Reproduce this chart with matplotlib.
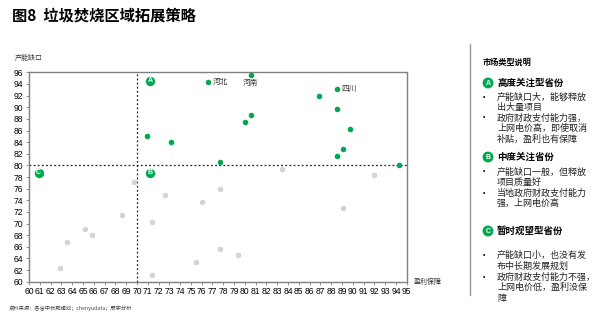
import matplotlib
matplotlib.use("Agg")
import matplotlib.pyplot as plt
from matplotlib.patches import Ellipse

plt.rcParams['font.family'] = ['Liberation Sans', 'Noto Sans CJK SC', 'DejaVu Sans']

# Provinces of high / medium interest (green)
green_x = [76.6, 70.9, 73.2, 77.7, 80.6, 80.0, 80.6, 86.85, 88.5, 88.5, 89.7, 89.1, 88.5, 94.3]
green_y = [94.3, 85.1, 84.0, 80.6, 95.5, 87.5, 88.6, 92.0, 93.2, 89.75, 86.3, 82.9, 81.7, 80.0]

# Provinces in wait-and-see status (grey)
gray_x = [69.7, 72.6, 77.7, 76.0, 68.6, 71.4, 65.2, 65.8, 63.5, 77.7, 62.9, 75.5, 71.4,
          79.4, 89.1, 92.0, 83.45]
gray_y = [77.15, 74.9, 76.0, 73.7, 71.4, 70.3, 69.1, 68.0, 66.8, 65.7, 62.3, 63.4, 61.1,
          64.55, 72.6, 78.3, 79.4]

# Named points
named = [("河北", 76.6, 94.3, "right"), ("河南", 80.6, 95.5, "below"), ("四川", 88.5, 93.2, "right")]

x_ticks = list(range(60, 96))
y_ticks = list(range(60, 97, 2))
x_split = 70
y_split = 80

GREEN = "#00a84f"
GRAY = "#d4d4d4"
W, H = 600.0, 316.0

fig = plt.figure(figsize=(6.0, 3.16), dpi=100)
ax = fig.add_axes([0.0483, 0.1085, 0.6297, 0.6625])

ax.scatter(gray_x, gray_y, s=16, color=GRAY, zorder=3, linewidths=0)
ax.scatter(green_x, green_y, s=16, color=GREEN, zorder=4, linewidths=0)

for name, x, y, pos in named:
    if pos == "right":
        ax.annotate(name, (x, y), xytext=(3.5, 0), textcoords="offset points",
                    ha="left", va="center", fontsize=5.5, color="#333333",
                    family=['Noto Sans CJK SC'])
    else:
        ax.annotate(name, (x, y), xytext=(-0.5, -5.5), textcoords="offset points",
                    ha="center", va="center", fontsize=5.5, color="#333333",
                    family=['Noto Sans CJK SC'])

ax.axvline(x_split, color="#222222", linestyle=(0, (1.5, 1.8)), linewidth=0.9, zorder=2)
ax.axhline(y_split, color="#222222", linestyle=(0, (1.5, 1.8)), linewidth=0.9, zorder=2)

# quadrant badges
for letter, x, y in [("A", 71.2, 94.6), ("B", 71.2, 78.75), ("C", 60.9, 78.75)]:
    ax.scatter([x], [y], s=46, color=GREEN, zorder=5, linewidths=0)
    ax.text(x, y - 0.05, letter, ha="center", va="center", color="white",
            fontsize=5, fontweight="bold", zorder=6)

ax.set_xlim(60, 95)
ax.set_ylim(60, 96)
ax.set_xticks(x_ticks)
ax.set_yticks(y_ticks)
ax.set_xticklabels([str(v) for v in x_ticks], fontsize=6.2)
ax.set_yticklabels([str(v) for v in y_ticks], fontsize=6.2)
ax.tick_params(length=2, width=0.6, color="#808080", pad=2)
for sp in ax.spines.values():
    sp.set_color("#808080")
    sp.set_linewidth(1.0)

fig.text(0.02, 0.952, "图8  垃圾焚烧区域拓展策略", fontsize=11, fontweight="bold",
         ha="left", va="center", family=['Noto Sans CJK SC'])
fig.text(0.025, 0.818, "产能缺口", fontsize=5, ha="left", va="center",
         color="#333333", family=['Noto Sans CJK SC'])
fig.text(0.69, 0.108, "盈利保障", fontsize=5, ha="left", va="center",
         color="#333333", family=['Noto Sans CJK SC'])
fig.text(0.015, 0.024, "资料来源：各省中长期规划；chenyudata；辰宇分析", fontsize=3.8,
         ha="left", va="center", color="#444444",
         family=['Noto Sans CJK SC', 'DejaVu Sans'])

# legend panel on the right
fig.add_artist(plt.Line2D([0.783, 0.783], [0.065, 0.86], color="#999999", linewidth=1.0,
                          transform=fig.transFigure))


def fy(py):
    return 1 - py / H


def fx(px):
    return px / W


cjk = ['Noto Sans CJK SC', 'DejaVu Sans']
fig.text(fx(483), fy(62), "市场类型说明", fontsize=5.9, fontweight="bold",
         ha="left", va="center", family=cjk)

sections = [
    ("A", 83, "高度关注型省份"),
    ("B", 157, "中度关注省份"),
    ("C", 231, "暂时观望型省份"),
]
for letter, py, head in sections:
    fig.add_artist(Ellipse((fx(488), fy(py)), 9.5 / W, 9.5 / H, color=GREEN,
                           transform=fig.transFigure))
    fig.text(fx(488), fy(py + 0.2), letter, ha="center", va="center", color="white",
             fontsize=5, fontweight="bold")
    fig.text(fx(497), fy(py), head, fontsize=6.8, fontweight="bold",
             ha="left", va="center", family=cjk)

bullets = [
    (97, ["产能缺口大，能够释放", "出大量项目"]),
    (118, ["政府财政支付能力强，", "上网电价高，即使取消", "补贴，盈利也有保障"]),
    (172, ["产能缺口一般，但释放", "项目质量好"]),
    (193, ["当地政府财政支付能力", "强，上网电价高"]),
    (255, ["产能缺口小，也没有发", "布中长期发展规划"]),
    (277, ["政府财政支付能力不强，", "上网电价低，盈利没保", "障"]),
]
for py, lines in bullets:
    fig.text(fx(484), fy(py), "•", fontsize=5, ha="center", va="center")
    for i, line in enumerate(lines):
        fig.text(fx(497), fy(py + i * 10.8), line, fontsize=6.5, ha="left",
                 va="center", color="#222222", family=cjk)

fig.savefig("out.png", dpi=100)
